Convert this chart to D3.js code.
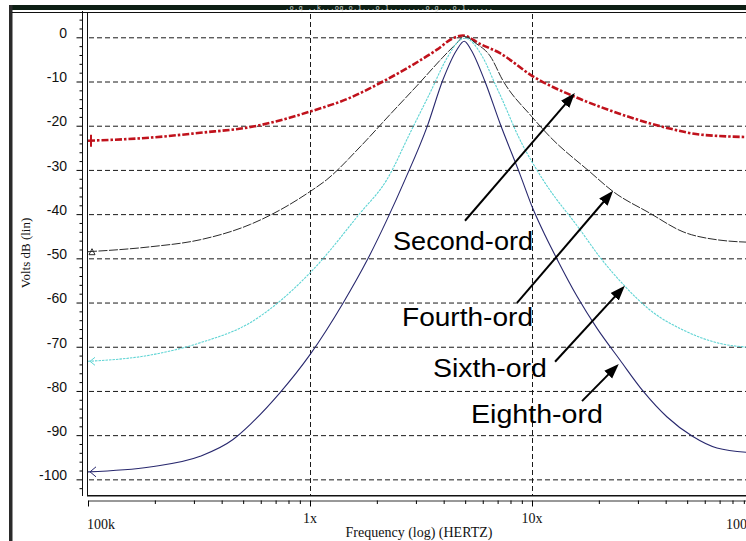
<!DOCTYPE html>
<html lang="en">
  <head>
    <meta charset="utf-8">
    <title>Bandpass filter orders</title>
    <script src="https://d3js.org/d3.v7.min.js" charset="utf-8"></script>
    <style type="text/css">
      body { margin: 0; background: white; }
      svg { display: block; }
      .ylab { font-family: "Liberation Sans", Arial, sans-serif; font-size: 14px; }
      .serif { font-family: "Liberation Serif", "Times New Roman", serif; }
      .note { font-family: "Liberation Sans", Arial, sans-serif; font-size: 26px; }
    </style>
  </head>
  <body>
    <script>
      var width = 746;
      var height = 541;

      // frequencies in MHz, levels in dB
      var secondFreq = [0.1, 0.19, 0.32, 0.54, 1.0, 1.51, 2.13, 2.82, 3.73, 4.41, 4.89, 5.83, 7.18, 10, 15.5, 20.2, 28.5, 40.6, 57.1, 100];
      var secondDb   = [-23.4, -22.7, -21.6, -20.3, -16.8, -13.7, -10.0, -6.6, -2.8, -0.2, 0.4, -1.5, -3.6, -8.7, -13.4, -15.7, -18.3, -20.5, -22.0, -22.6];

      var fourthFreq = [0.1, 0.19, 0.32, 0.54, 1.0, 1.19, 1.68, 2.29, 3.13, 3.97, 4.59, 4.95, 5.6, 6.47, 7.4, 10, 12.05, 18.2, 23.2, 34, 47.9, 68.1, 100];
      var fourthDb   = [-48.5, -47.4, -45.8, -42.3, -34.9, -32.2, -24.8, -17.5, -10.2, -4.5, -1.3, 0.2, -1.4, -4.2, -9.8, -18.0, -22.5, -30.4, -34.9, -39.8, -44.0, -45.8, -46.4];

      var sixthFreq = [0.1, 0.19, 0.32, 0.54, 1.0, 1.68, 2.22, 2.82, 3.47, 4.14, 4.74, 5.0, 6.0, 6.81, 7.18, 8.83, 11.2, 16.5, 20.2, 26.2, 34, 47.9, 68.1, 100];
      var sixthDb   = [-73.3, -71.9, -69.1, -64.5, -53.3, -39.8, -32.2, -21.7, -12.6, -4.7, -0.6, -0.2, -4.5, -10.5, -13.0, -23.2, -32.2, -43.6, -49.7, -56.3, -61.7, -66.2, -69.1, -70.2];

      var eighthFreq = [0.1, 0.19, 0.32, 0.45, 0.54, 0.73, 1.0, 1.41, 1.81, 2.22, 2.68, 3.37, 3.97, 4.59, 4.95, 5.31, 6.14, 7.18, 8.83, 10.1, 11.45, 12.97, 15.95, 19.6, 24.9, 31.6, 40.6, 52.6, 68.1, 100];
      var eighthDb   = [-98.3, -97.2, -94.8, -91.0, -87.5, -80.5, -71.8, -60.1, -50.4, -41.3, -32.2, -20.2, -9.6, -2.8, -0.9, -2.8, -10.0, -19.5, -31.0, -38.8, -44.8, -50.2, -58.6, -65.8, -73.0, -80.0, -85.9, -90.2, -92.9, -94.0];

      var yTicks = [0, -10, -20, -30, -40, -50, -60, -70, -80, -90, -100];
      var xTickValues = [0.1, 1, 10, 100];
      var xTickLabels = ["100k", "1x", "10x", "100x"];

      // annotation labels and arrows, in data units (MHz, dB)
      var noteLabels = ["Second-ord", "Fourth-ord", "Sixth-ord", "Eighth-ord"];
      var noteFreq = [2.366, 2.597, 3.58, 5.31];
      var noteDb = [-48.1, -65.3, -76.8, -87.3];
      var arrowFromFreq = [4.99, 8.56, 12.7, 16.8];
      var arrowFromDb = [-41.5, -60.1, -73.4, -82.3];
      var arrowToFreq = [15.6, 23.2, 26.2, 24.6];
      var arrowToDb = [-12.6, -34.7, -56.2, -73.9];

      var x = d3.scaleLog().domain([0.1, 100]).range([88, 754]);
      var y = d3.scaleLinear().domain([-103.7, 5.5]).range([495.7, 13]);

      var svg = d3.select("body")
      .append("svg")
      .attr("width", width)
      .attr("height", height);

      var defs = svg.append("defs");
      defs.append("clipPath").attr("id", "plotclip")
      .append("rect").attr("x", 88).attr("y", 13).attr("width", 666).attr("height", 483);

      defs.append("marker")
      .attr("id", "head")
      .attr("markerUnits", "userSpaceOnUse")
      .attr("markerWidth", 15).attr("markerHeight", 12)
      .attr("refX", 7).attr("refY", 6)
      .attr("orient", "auto")
      .append("path").attr("d", "M0,0.5 L15,6 L0,11.5 Z").attr("fill", "#000");

      // window chrome
      svg.append("rect").attr("x", 9).attr("y", 5).attr("width", 737).attr("height", 5).attr("fill", "#0d1f14");
      svg.append("text")
      .attr("x", 285).attr("y", 9.5)
      .attr("textLength", 208)
      .attr("font-family", "DejaVu Sans Mono, monospace")
      .attr("font-size", 7)
      .attr("fill", "#c8d0c8")
      .text(".o.q ..k...oq.o.1...o.1........o.g...o.1......");
      svg.append("rect").attr("x", 9).attr("y", 5).attr("width", 3.5).attr("height", 536).attr("fill", "#2a2a2a");
      svg.append("line").attr("x1", 12).attr("x2", 746).attr("y1", 12.5).attr("y2", 12.5).attr("stroke", "#111");

      // grid
      var grid = svg.append("g").attr("stroke", "#1a1a1a").attr("stroke-dasharray", "5,3");
      grid.selectAll("line.h")
      .data(yTicks)
      .enter()
      .append("line")
      .attr("class", "h")
      .attr("x1", 89).attr("x2", 746)
      .attr("y1", function(d) { return y(d) + 0.5; })
      .attr("y2", function(d) { return y(d) + 0.5; });
      grid.selectAll("line.v")
      .data([1, 10])
      .enter()
      .append("line")
      .attr("class", "v")
      .attr("x1", function(d) { return Math.round(x(d)) + 0.5; })
      .attr("x2", function(d) { return Math.round(x(d)) + 0.5; })
      .attr("y1", 14).attr("y2", 495);

      // plot frame
      svg.append("line").attr("x1", 87.5).attr("x2", 87.5).attr("y1", 12.5).attr("y2", 496).attr("stroke", "#111");
      svg.append("line").attr("x1", 87).attr("x2", 746).attr("y1", 495.8).attr("y2", 495.8).attr("stroke", "#111").attr("stroke-width", 1.6);

      // y axis
      var yAxis = svg.append("g").attr("transform", "translate(82.5,0)")
      .call(d3.axisLeft(y).tickValues(yTicks).tickSize(6).tickSizeOuter(0).tickPadding(9.5)
        .tickFormat(function(d) { return String(d); }));
      yAxis.select(".domain").remove();
      yAxis.selectAll("text").attr("class", "ylab").attr("dy", "0.02em").attr("fill", "#111");
      svg.append("g").attr("transform", "translate(82.5,0)")
      .call(d3.axisLeft(y).tickValues(d3.range(-102, 5, 2).filter(function(d) { return d % 10 !== 0; }))
        .tickSize(3).tickSizeOuter(0).tickFormat(""))
      .select(".domain").remove();
      svg.append("line").attr("x1", 82.5).attr("x2", 82.5).attr("y1", 11).attr("y2", 496).attr("stroke", "#111");

      // x axis
      var minorX = [];
      [0.1, 1, 10].forEach(function(dec) {
        for (var k = 2; k <= 9; k++) minorX.push(dec * k);
      });
      var xAxis = svg.append("g").attr("transform", "translate(0,500.5)")
      .call(d3.axisBottom(x).tickValues(xTickValues).tickSize(6).tickSizeOuter(0).tickFormat(""));
      xAxis.select(".domain").attr("stroke", "#333");
      svg.append("g").attr("transform", "translate(0,500.5)")
      .call(d3.axisBottom(x).tickValues(minorX).tickSize(3.5).tickSizeOuter(0).tickFormat(""))
      .select(".domain").remove();

      svg.selectAll("text.xlab")
      .data(xTickValues)
      .enter()
      .append("text")
      .attr("class", "xlab serif")
      .attr("font-size", 14)
      .attr("fill", "#111")
      .attr("x", function(d, i) { return x(d) + (i === 0 ? -1 : 0); })
      .attr("y", function(d, i) { return (i === 0 || i === xTickValues.length - 1) ? 529 : 522.5; })
      .attr("text-anchor", function(d, i) { return i === 0 ? "start" : (i === xTickValues.length - 1 ? "end" : "middle"); })
      .text(function(d, i) { return xTickLabels[i]; });

      svg.append("text")
      .attr("class", "serif")
      .attr("font-size", 14)
      .attr("fill", "#111")
      .attr("x", 419).attr("y", 537)
      .attr("text-anchor", "middle")
      .text("Frequency (log) (HERTZ)");

      svg.append("text")
      .attr("class", "serif")
      .attr("font-size", 13)
      .attr("fill", "#111")
      .attr("text-anchor", "middle")
      .attr("transform", "translate(30,253) rotate(-90)")
      .text("Volts dB (lin)");

      // curves
      var line = d3.line()
      .x(function(d) { return x(d[0]); })
      .y(function(d) { return y(d[1]); })
      .curve(d3.curveMonotoneX);

      var series = [
        { f: secondFreq, v: secondDb, color: "#c0121c", w: 2.6, dash: "7,2,2.5,2" },
        { f: fourthFreq, v: fourthDb, color: "#2b2b2b", w: 1, dash: "9,1.5" },
        { f: sixthFreq, v: sixthDb, color: "#5fd4d4", w: 1.1, dash: "2.5,1" },
        { f: eighthFreq, v: eighthDb, color: "#28286e", w: 1.1, dash: null }
      ];

      var curves = svg.append("g").attr("clip-path", "url(#plotclip)");
      curves.selectAll("path")
      .data(series)
      .enter()
      .append("path")
      .attr("fill", "none")
      .attr("stroke", function(d) { return d.color; })
      .attr("stroke-width", function(d) { return d.w; })
      .attr("stroke-dasharray", function(d) { return d.dash; })
      .attr("d", function(d) { return line(d3.zip(d.f, d.v)); });

      // trace symbols at the start of each curve
      var symbolPaths = [
        function(px, py) { return "M" + (px + 3) + "," + (py - 6) + "V" + (py + 6); },
        function(px, py) { return "M" + (px + 1) + "," + (py + 3) + "L" + (px + 4) + "," + (py - 3) + "L" + (px + 7) + "," + (py + 3) + "Z"; },
        function(px, py) { return "M" + (px + 7) + "," + (py - 4) + "L" + (px + 2) + "," + py + "L" + (px + 7) + "," + (py + 4); },
        function(px, py) { return "M" + (px + 8) + "," + (py - 5) + "L" + (px + 2) + "," + py + "L" + (px + 8) + "," + (py + 5); }
      ];
      svg.append("g").selectAll("path")
      .data(series)
      .enter()
      .append("path")
      .attr("fill", "none")
      .attr("stroke", function(d) { return d.color; })
      .attr("stroke-width", function(d, i) { return i === 0 ? 2 : 1; })
      .attr("d", function(d, i) { return symbolPaths[i](x(d.f[0]), y(d.v[0])); });

      // annotations
      var notes = svg.append("g");
      notes.selectAll("line")
      .data(noteLabels)
      .enter()
      .append("line")
      .attr("stroke", "#000")
      .attr("stroke-width", 2)
      .attr("marker-end", "url(#head)")
      .each(function(d, i) {
        var x0 = x(arrowFromFreq[i]), y0 = y(arrowFromDb[i]);
        var x1 = x(arrowToFreq[i]), y1 = y(arrowToDb[i]);
        var len = Math.hypot(x1 - x0, y1 - y0);
        var k = (len - 8) / len;
        d3.select(this)
        .attr("x1", x0).attr("y1", y0)
        .attr("x2", x0 + (x1 - x0) * k).attr("y2", y0 + (y1 - y0) * k);
      });

      var noteWidths = [140, 131, 114, 132];
      notes.selectAll("text")
      .data(noteLabels)
      .enter()
      .append("text")
      .attr("class", "note")
      .attr("x", function(d, i) { return x(noteFreq[i]); })
      .attr("y", function(d, i) { return y(noteDb[i]); })
      .attr("textLength", function(d, i) { return noteWidths[i]; })
      .attr("lengthAdjust", "spacingAndGlyphs")
      .text(function(d) { return d; });
    </script>
  </body>
</html>
